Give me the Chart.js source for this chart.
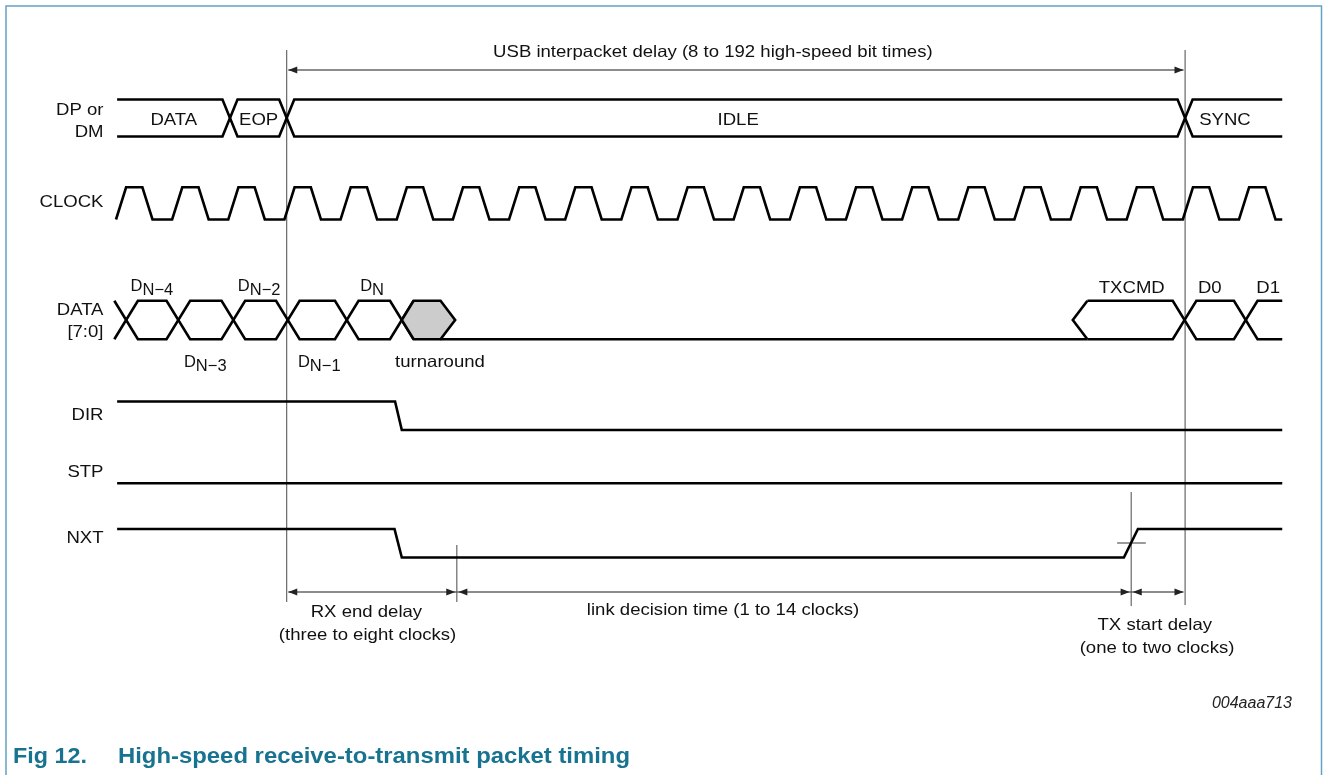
<!DOCTYPE html>
<html>
<head>
<meta charset="utf-8">
<script src="https://cdn.jsdelivr.net/npm/chart.js@4.4.1/dist/chart.umd.min.js"></script>
<style>
html,body{margin:0;padding:0;background:#fff;}
canvas{display:block;}
</style>
</head>
<body>
<canvas id="c" width="1326" height="775"></canvas>
<script>
// ================= DATA (time in clock periods; t = 0 at the first CLOCK rising edge) =================
const traceStart = 0.02;
const traceEnd = 20.77;

const clockCycles = [0,1,2,3,4,5,6,7,8,9,10,11,12,13,14,15,16,17,18,19,20];

const dpStates = ['DATA', 'EOP', 'IDLE', 'SYNC'];
const dpEdges = [2.03, 3.04, 19.04];
const dpLabelAt = [1.03, 2.54, 11.08, 19.75];

const rxBytes = ['N\u22124', 'N\u22123', 'N\u22122', 'N\u22121', 'N'];
const rxEdges = [0.18, 1.11, 2.09, 3.06, 4.11, 5.09];
const rxLabelAt = [0.64, 1.59, 2.55, 3.62, 4.56];
const rxLabelAbove = [true, false, true, false, true];
const turnaroundEnd = 6.04;
const turnaroundLabelAt = 5.77;

const txBytes = ['TXCMD', 'D0', 'D1'];
const txcmdStart = 17.04;
const txEdges = [19.03, 20.12];
const txLabelAt = [18.09, 19.48, 20.52];

const dirLevels = [1, 0];
const dirEdges = [[4.97, 5.09]];
const stpLevels = [0];
const stpEdges = [];
const nxtLevels = [1, 0, 1];
const nxtEdges = [[4.96, 5.09], [17.95, 18.20]];

const markRxEnd = 3.04;     // end of receive
const markDecision = 6.07;  // RX end delay ends
const markTxReady = 18.08;  // NXT asserted
const markTxStart = 19.04;  // SYNC starts

const signalLabels = ['DP or', 'DM', 'CLOCK', 'DATA', '[7:0]', 'DIR', 'STP', 'NXT'];
const topSpanText = 'USB interpacket delay (8 to 192 high-speed bit times)';
const rxSpanText = ['RX end delay', '(three to eight clocks)'];
const decisionSpanText = 'link decision time (1 to 14 clocks)';
const txSpanText = ['TX start delay', '(one to two clocks)'];
const figId = '004aaa713';
const captionNum = 'Fig 12.';
const captionText = 'High-speed receive-to-transmit packet timing';

// ================= LAYOUT / STYLE =================
const PX0 = 116, PX_PER_CLK = 56.15, W = 1326, H = 775;
const lanes = {
  dp:    {hi: 99.5,  lo: 136.5},
  clock: {hi: 187.3, lo: 219.5},
  data:  {hi: 300.8, lo: 339.2},
  dir:   {hi: 401.5, lo: 430.0},
  stp:   {hi: 455.0, lo: 483.2},
  nxt:   {hi: 529.0, lo: 557.5}
};
const CLK_RISE = 0.18, CLK_HIGH = 0.29, CLK_FALL = 0.18;
const DP_X = 0.134, BUS_X = 0.21, BUS_CAP = 0.26;
const SIG = {borderColor: '#000', borderWidth: 2.6};
const ANN = {borderColor: '#5a5a5a', borderWidth: 1.1};
const DIM = {borderColor: '#666', borderWidth: 1.3};
const GAP = 0.028;
const yTop = 70, yDim = 592;
const TEAL = '#17738f';
const TXT_SIZE = 16.5, TXT_SX = 1.125;

function ds(points, style, extra) {
  return Object.assign({data: points, showLine: true, pointRadius: 0, fill: false,
    borderJoinStyle: 'miter', borderCapStyle: 'butt'}, style, extra || {});
}
const mid = l => (l.hi + l.lo) / 2;

function levelPoints(lane, levels, edges) {
  const yOf = v => v ? lane.hi : lane.lo;
  const pts = [{x: traceStart, y: yOf(levels[0])}];
  edges.forEach((e, i) => {
    pts.push({x: e[0], y: yOf(levels[i])});
    pts.push({x: e[1], y: yOf(levels[i + 1])});
  });
  pts.push({x: traceEnd, y: yOf(levels[levels.length - 1])});
  return pts;
}

function clockPoints(lane) {
  const pts = [];
  clockCycles.forEach(c => {
    const seq = [[c, lane.lo], [c + CLK_RISE, lane.hi], [c + CLK_RISE + CLK_HIGH, lane.hi],
                 [c + CLK_RISE + CLK_HIGH + CLK_FALL, lane.lo]];
    seq.forEach(p => { if (p[0] <= traceEnd) pts.push({x: p[0], y: p[1]}); });
  });
  if (pts[pts.length - 1].x < traceEnd) pts.push({x: traceEnd, y: lane.lo});
  return pts;
}

// two crossing outlines of a bus
function busLines(lane, startT, crossings, endT, h) {
  let aHi = true;
  const a = [], b = [];
  if (startT !== null) { a.push({x: startT, y: lane.hi}); b.push({x: startT, y: lane.lo}); }
  crossings.forEach(c => {
    a.push({x: c - h, y: aHi ? lane.hi : lane.lo}); a.push({x: c + h, y: aHi ? lane.lo : lane.hi});
    b.push({x: c - h, y: aHi ? lane.lo : lane.hi}); b.push({x: c + h, y: aHi ? lane.hi : lane.lo});
    aHi = !aHi;
  });
  if (endT !== null) { a.push({x: endT, y: aHi ? lane.hi : lane.lo}); b.push({x: endT, y: aHi ? lane.lo : lane.hi}); }
  return [a, b];
}

const datasets = [];
// turnaround (filled)
const D = lanes.data, tStart = rxEdges[rxEdges.length - 1];
datasets.push(ds([
  {x: tStart, y: mid(D)}, {x: tStart + BUS_X, y: D.hi}, {x: turnaroundEnd - BUS_CAP, y: D.hi},
  {x: turnaroundEnd, y: mid(D)}, {x: turnaroundEnd - BUS_CAP, y: D.lo}, {x: tStart + BUS_X, y: D.lo},
  {x: tStart, y: mid(D)}
], SIG, {fill: 'shape', backgroundColor: '#cccccc'}));

// DP/DM bus
busLines(lanes.dp, traceStart, dpEdges, traceEnd, DP_X).forEach(p => datasets.push(ds(p, SIG)));
// CLOCK
datasets.push(ds(clockPoints(lanes.clock), SIG));
// DATA bus receive bytes
busLines(D, null, rxEdges, null, BUS_X).forEach(p => datasets.push(ds(p, SIG)));
// idle low after turnaround
datasets.push(ds([{x: turnaroundEnd - BUS_CAP, y: D.lo}, {x: txcmdStart + BUS_CAP, y: D.lo}], SIG));
// TXCMD cap and transmit bytes
datasets.push(ds([{x: txcmdStart + BUS_CAP, y: D.hi}, {x: txcmdStart, y: mid(D)}, {x: txcmdStart + BUS_CAP, y: D.lo}], SIG));
busLines(D, txcmdStart + BUS_CAP, txEdges, traceEnd, BUS_X).forEach(p => datasets.push(ds(p, SIG)));
// DIR, STP, NXT
datasets.push(ds(levelPoints(lanes.dir, dirLevels, dirEdges), SIG));
datasets.push(ds(levelPoints(lanes.stp, stpLevels, stpEdges), SIG));
datasets.push(ds(levelPoints(lanes.nxt, nxtLevels, nxtEdges), SIG));

// annotation lines
datasets.push(ds([{x: markRxEnd, y: 50}, {x: markRxEnd, y: 602}], ANN));
datasets.push(ds([{x: markTxStart, y: 50}, {x: markTxStart, y: 605}], ANN));
datasets.push(ds([{x: markDecision, y: 545}, {x: markDecision, y: 602}], ANN));
datasets.push(ds([{x: markTxReady, y: 492}, {x: markTxReady, y: 606}], ANN));
datasets.push(ds([{x: markTxReady - 0.25, y: 543}, {x: markTxReady + 0.26, y: 543}], {borderColor: '#808080', borderWidth: 1.6}));
datasets.push(ds([{x: markRxEnd + GAP, y: yTop}, {x: markTxStart - GAP, y: yTop}], DIM));
datasets.push(ds([{x: markRxEnd + GAP, y: yDim}, {x: markTxStart - GAP, y: yDim}], DIM));

// ================= OVERLAY (text, arrowheads, frame) =================
const FONT = '"Liberation Sans", Arial, Helvetica, sans-serif';
function setFont(ctx, size, bold, italic) {
  ctx.font = (italic ? 'italic ' : '') + (bold ? 'bold ' : '') + size + 'px ' + FONT;
}
function txt(ctx, s, px, py, o) {
  o = o || {};
  ctx.save();
  setFont(ctx, o.size || TXT_SIZE, o.bold, o.italic);
  ctx.fillStyle = o.color || '#111';
  ctx.textBaseline = 'alphabetic';
  ctx.textAlign = o.align || 'center';
  ctx.translate(px, py);
  ctx.scale(o.sx === undefined ? TXT_SX : o.sx, 1);
  ctx.fillText(s, 0, 0);
  ctx.restore();
}
function subTxt(ctx, main, sub, cx, base) {
  ctx.save();
  setFont(ctx, 16.5);
  const w1 = ctx.measureText(main).width, w2 = ctx.measureText(sub).width;
  const x0 = cx - (w1 + w2) / 2;
  ctx.fillStyle = '#111';
  ctx.textAlign = 'left';
  ctx.textBaseline = 'alphabetic';
  ctx.fillText(main, x0, base);
  ctx.fillText(sub, x0 + w1, base + 4.3);
  ctx.restore();
}
function arrowHead(ctx, px, py, dir) {
  ctx.save();
  ctx.fillStyle = '#222';
  ctx.beginPath();
  ctx.moveTo(px, py);
  ctx.lineTo(px - dir * 9, py - 3.6);
  ctx.lineTo(px - dir * 9, py + 3.6);
  ctx.closePath();
  ctx.fill();
  ctx.restore();
}

const overlay = {
  id: 'overlay',
  beforeDraw(chart) {
    const c = chart.ctx;
    c.save(); c.fillStyle = '#fff'; c.fillRect(0, 0, chart.width, chart.height); c.restore();
  },
  afterDatasetsDraw(chart) {
    const ctx = chart.ctx, xs = chart.scales.x, ys = chart.scales.y;
    const X = t => xs.getPixelForValue(t), Y = v => ys.getPixelForValue(v);

    // arrowheads
    arrowHead(ctx, X(markRxEnd + GAP), Y(yTop), -1);
    arrowHead(ctx, X(markTxStart - GAP), Y(yTop), 1);
    [[markRxEnd, markDecision], [markDecision, markTxReady], [markTxReady, markTxStart]].forEach(s => {
      arrowHead(ctx, X(s[0] + GAP), Y(yDim), -1);
      arrowHead(ctx, X(s[1] - GAP), Y(yDim), 1);
    });

    // signal names
    const lx = 103.5;
    const lb = [115, 136.5, 207, 314.5, 337, 420, 476.5, 542.5];
    signalLabels.forEach((s, i) => txt(ctx, s, lx, Y(lb[i]), {align: 'right'}));

    // DP/DM states
    dpStates.forEach((s, i) => txt(ctx, s, X(dpLabelAt[i]), Y(125)));

    // DATA bytes
    rxBytes.forEach((s, i) => subTxt(ctx, 'D', s, X(rxLabelAt[i]), Y(rxLabelAbove[i] ? 290.7 : 366.5)));
    txt(ctx, 'turnaround', X(turnaroundLabelAt), Y(366.5));
    txBytes.forEach((s, i) => txt(ctx, s, X(txLabelAt[i]), Y(293)));

    // spans
    txt(ctx, topSpanText, X(10.63), Y(57.3));
    txt(ctx, rxSpanText[0], X(4.46), Y(616.5));
    txt(ctx, rxSpanText[1], X(4.48), Y(639.5));
    txt(ctx, decisionSpanText, X(10.81), Y(615));
    txt(ctx, txSpanText[0], X(18.5), Y(629.5));
    txt(ctx, txSpanText[1], X(18.54), Y(652.5));
    txt(ctx, figId, 1292, 708, {align: 'right', italic: true, sx: 1, size: 16, color: '#222'});
  },
  afterDraw(chart) {
    const ctx = chart.ctx;
    ctx.save();
    ctx.strokeStyle = '#62a3c4';
    ctx.lineWidth = 1.5;
    ctx.beginPath();
    ctx.moveTo(6, H + 2); ctx.lineTo(6, 6); ctx.lineTo(1321.5, 6); ctx.lineTo(1321.5, H + 2);
    ctx.stroke();
    ctx.restore();
    txt(ctx, captionNum, 13, 763, {align: 'left', bold: true, size: 22, sx: 1.06, color: TEAL});
    txt(ctx, captionText, 118, 763, {align: 'left', bold: true, size: 22, sx: 1.085, color: TEAL});
  }
};

new Chart(document.getElementById('c').getContext('2d'), {
  type: 'scatter',
  data: {datasets},
  options: {
    responsive: false,
    animation: false,
    events: [],
    layout: {padding: 0},
    plugins: {legend: {display: false}, tooltip: {enabled: false}, title: {display: false}},
    elements: {line: {tension: 0}, point: {radius: 0}},
    scales: {
      x: {type: 'linear', min: -PX0 / PX_PER_CLK, max: (W - PX0) / PX_PER_CLK, display: false},
      y: {type: 'linear', min: 0, max: H, reverse: true, display: false}
    }
  },
  plugins: [overlay]
});
</script>
</body>
</html>
